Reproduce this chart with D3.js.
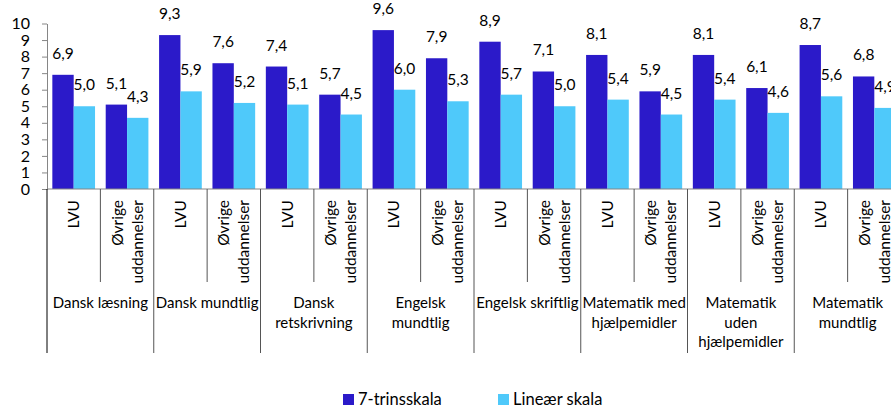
<html>
<script src="https://d3js.org/d3.v7.min.js"></script>
<style>
    body { margin: 0; background: #fff; }
    text { font-family: Lato, "Open Sans", sans-serif; fill: #000; }
</style>
<body>
<svg id="chart"></svg>
<script>
    // fag (top-level categories), split into lines as in the original
    var groups = [
        ["Dansk læsning"],
        ["Dansk mundtlig"],
        ["Dansk", "retskrivning"],
        ["Engelsk", "mundtlig"],
        ["Engelsk skriftlig"],
        ["Matematik med", "hjælpemidler"],
        ["Matematik", "uden", "hjælpemidler"],
        ["Matematik", "mundtlig"]
    ];
    var subgroups = [["LVU"], ["Øvrige", "uddannelser"]];
    var seriesNames = ["7-trinsskala", "Lineær skala"];
    var colors = ["#2b1ac9", "#4fc9fa"];

    // one value per (group, subgroup), in order
    var trin7 = [6.9, 5.1, 9.3, 7.6, 7.4, 5.7, 9.6, 7.9, 8.9, 7.1, 8.1, 5.9, 8.1, 6.1, 8.7, 6.8];
    var linear = [5.0, 4.3, 5.9, 5.2, 5.1, 4.5, 6.0, 5.3, 5.7, 5.0, 5.4, 4.5, 5.4, 4.6, 5.6, 4.9];
    var yTicks = [0, 1, 2, 3, 4, 5, 6, 7, 8, 9, 10];

    var width = 891, height = 410;
    var svg = d3.select("#chart").attr("width", width).attr("height", height);

    var slots = d3.range(groups.length * subgroups.length);
    var x = d3.scaleBand().domain(slots).range([47, 901]).paddingInner(0).paddingOuter(0);
    var xSeries = d3.scaleBand().domain([0, 1]).range([0, x.bandwidth()]).paddingInner(0).paddingOuter(0.25);
    var y = d3.scaleLinear().domain([0, 10]).range([189, 23.5]);

    // y axis
    var yAxis = svg.append("g")
        .attr("transform", "translate(47,0)")
        .call(d3.axisLeft(y).tickValues(yTicks).tickSize(5).tickSizeOuter(0).tickPadding(12));
    yAxis.select(".domain").attr("stroke", "#868686");
    yAxis.selectAll(".tick line").attr("stroke", "#868686");
    yAxis.selectAll(".tick text")
        .style("font-size", "16px")
        .style("font-family", "Lato, sans-serif")
        .attr("fill", "#000");

    // bars
    var data = slots.map(function (i) { return { i: i, v: [trin7[i], linear[i]] }; });
    var slot = svg.append("g").selectAll("g")
        .data(data)
        .enter()
        .append("g")
        .attr("transform", function (d) { return "translate(" + x(d.i) + ",0)"; });

    slot.selectAll("rect")
        .data(function (d) { return d.v.map(function (v, s) { return { s: s, v: v }; }); })
        .enter()
        .append("rect")
        .attr("x", function (d) { return xSeries(d.s); })
        .attr("width", xSeries.bandwidth())
        .attr("y", function (d) { return y(d.v); })
        .attr("height", function (d) { return y(0) - y(d.v); })
        .attr("fill", function (d) { return colors[d.s]; });

    slot.selectAll("text.val")
        .data(function (d) { return d.v.map(function (v, s) { return { s: s, v: v }; }); })
        .enter()
        .append("text")
        .attr("class", "val")
        .attr("x", function (d) { return xSeries(d.s) + xSeries.bandwidth() / 2; })
        .attr("y", function (d) { return y(d.v) - 16; })
        .attr("text-anchor", "middle")
        .style("font-size", "15.5px")
        .text(function (d) { return d3.format(".1f")(d.v).replace(".", ","); });

    // baseline
    svg.append("line")
        .attr("x1", 47).attr("x2", width)
        .attr("y1", y(0)).attr("y2", y(0))
        .attr("stroke", "#868686");

    // x axis separators
    slots.forEach(function (i) {
        var isGroupEdge = i % subgroups.length == 0;
        svg.append("line")
            .attr("x1", x(i)).attr("x2", x(i))
            .attr("y1", y(0)).attr("y2", isGroupEdge ? 353 : 282)
            .attr("stroke", i == 0 ? "#000" : "#555");
    });

    // rotated subgroup labels
    slots.forEach(function (i) {
        var lines = subgroups[i % subgroups.length];
        var cx = x(i) + x.bandwidth() / 2;
        lines.forEach(function (line, k) {
            var off = (k - (lines.length - 1) / 2) * 20;
            svg.append("text")
                .attr("transform", "translate(" + (cx + off + 5.5) + ",200) rotate(-90)")
                .attr("text-anchor", "end")
                .style("font-size", "15.5px")
                .text(line);
        });
    });

    // group labels
    groups.forEach(function (lines, g) {
        var cx = x(g * subgroups.length) + x.bandwidth();
        lines.forEach(function (line, k) {
            svg.append("text")
                .attr("x", cx)
                .attr("y", 308 + k * 19.5)
                .attr("text-anchor", "middle")
                .style("font-size", "15px")
                .text(line);
        });
    });

    // legend
    var legendX = [343, 498];
    seriesNames.forEach(function (name, s) {
        svg.append("rect")
            .attr("x", legendX[s]).attr("y", 394)
            .attr("width", 11).attr("height", 11)
            .attr("fill", colors[s]);
        svg.append("text")
            .attr("x", legendX[s] + 15)
            .attr("y", 405)
            .style("font-size", "16.5px")
            .text(name);
    });
</script>
</body>
</html>
